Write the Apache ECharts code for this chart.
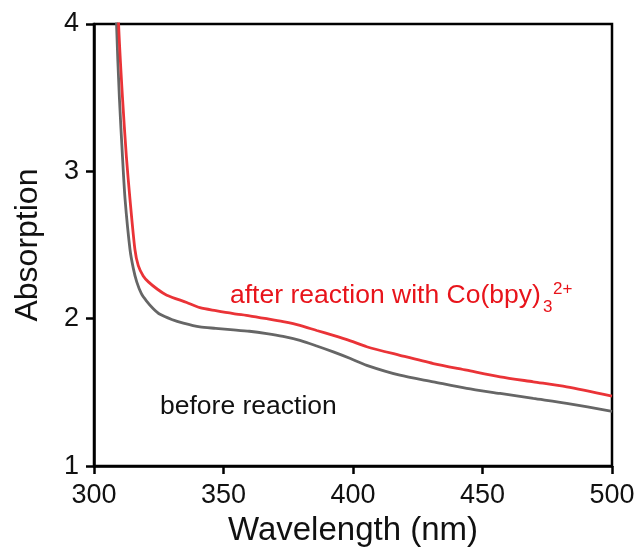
<!DOCTYPE html>
<html>
<head>
<meta charset="utf-8">
<script src="https://cdn.jsdelivr.net/npm/echarts@6/dist/echarts.min.js"></script>
<style>
html,body{margin:0;padding:0;background:#fff;}
#chart{width:641px;height:552px;}
</style>
</head>
<body>
<div id="chart"></div>
<script>
// Wavelength (nm) and absorption values
const beforeX = [308.2, 308.7, 309.8, 311, 312, 313.9, 315.2, 316.5, 318.3, 320.3, 322.8, 325.5, 330, 334.5, 340.9, 347, 353.8, 360, 366.7, 373, 379.5, 386, 392.4, 399, 405.3, 418.1, 431, 443.9, 456.8, 469.6, 482.5, 500];
const beforeY = [4.5, 4.0, 3.5, 3.1, 2.81, 2.47, 2.34, 2.25, 2.17, 2.12, 2.07, 2.03, 1.995, 1.97, 1.944, 1.935, 1.925, 1.915, 1.899, 1.88, 1.853, 1.815, 1.775, 1.73, 1.684, 1.617, 1.572, 1.527, 1.493, 1.459, 1.426, 1.372];
const afterX = [309, 309.5, 311, 312.5, 313.9, 315.8, 317.1, 319, 321, 324.5, 328.1, 335.8, 340.9, 347, 353.8, 360, 366.7, 373, 379.5, 386, 392.4, 399, 405.3, 418.1, 431, 443.9, 456.8, 469.6, 482.5, 500];
const afterY = [4.5, 4.0, 3.5, 3.1, 2.81, 2.47, 2.36, 2.29, 2.25, 2.2, 2.16, 2.11, 2.075, 2.055, 2.035, 2.02, 2.0, 1.98, 1.955, 1.92, 1.887, 1.85, 1.81, 1.752, 1.696, 1.651, 1.606, 1.572, 1.538, 1.475];
const xTicks = [300, 350, 400, 450, 500];
const yTicks = [1, 2, 3, 4];
const labelBefore = 'before reaction';
const labelAfter = 'after reaction with Co(bpy)';
const labelSub = '3';
const labelSup = '2+';

const zip = (xs, ys) => xs.map((x, i) => [x, ys[i]]);
const FONT = '"Liberation Sans", Arial, sans-serif';
const RED = '#e8141b';

const chart = echarts.init(document.getElementById('chart'), null, {renderer: 'canvas'});
chart.setOption({
  animation: false,
  backgroundColor: '#ffffff',
  grid: {left: 94, right: 29, top: 24, bottom: 84, show: true, borderColor: '#000', borderWidth: 2.5, backgroundColor: 'transparent'},
  xAxis: {
    type: 'value', min: xTicks[0], max: xTicks[xTicks.length - 1], interval: 50,
    name: 'Wavelength (nm)', nameLocation: 'middle', nameGap: 43,
    nameTextStyle: {fontFamily: FONT, fontSize: 33, color: '#111'},
    axisLine: {show: true, lineStyle: {color: '#000', width: 2.5}},
    axisTick: {show: true, inside: false, length: 8, lineStyle: {color: '#000', width: 2.5}},
    axisLabel: {fontFamily: FONT, fontSize: 27, color: '#111', margin: 16},
    splitLine: {show: false}
  },
  yAxis: {
    type: 'value', min: yTicks[0], max: yTicks[yTicks.length - 1], interval: 1,
    name: 'Absorption', nameLocation: 'middle', nameGap: 50,
    nameTextStyle: {fontFamily: FONT, fontSize: 32, color: '#111'},
    axisLine: {show: true, lineStyle: {color: '#000', width: 2.5}},
    axisTick: {show: true, inside: false, length: 8, lineStyle: {color: '#000', width: 2.5}},
    axisLabel: {fontFamily: FONT, fontSize: 27, color: '#111', margin: 15},
    splitLine: {show: false}
  },
  series: [
    {type: 'line', data: zip(beforeX, beforeY), showSymbol: false, smooth: 0.25, clip: true,
     lineStyle: {color: '#666666', width: 2.8}},
    {type: 'line', data: zip(afterX, afterY), showSymbol: false, smooth: 0.25, clip: true,
     lineStyle: {color: '#ea3337', width: 2.8}}
  ],
  graphic: [
    {type: 'text', left: 160, top: 393, style: {text: labelBefore, font: '26.5px ' + FONT, fill: '#111'}},
    {type: 'text', left: 230, top: 282, style: {text: labelAfter, font: '26.5px ' + FONT, fill: RED}},
    {type: 'text', left: 543, top: 299, style: {text: labelSub, font: '17px ' + FONT, fill: RED}},
    {type: 'text', left: 553, top: 281, style: {text: labelSup, font: '17px ' + FONT, fill: RED}}
  ]
});
</script>
</body>
</html>
